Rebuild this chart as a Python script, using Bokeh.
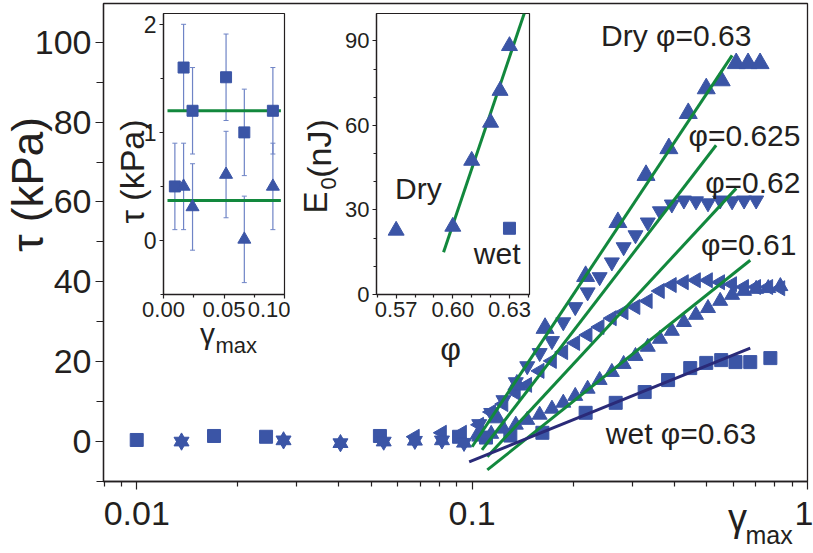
import math
from bokeh.plotting import figure
from bokeh.models import (Range1d, FixedTicker, Label, GridBox, Column,
                          CustomJSTickFormatter, NumeralTickFormatter)
from bokeh.embed import file_html
from bokeh.resources import INLINE

# ---------------- data: main panel (tau vs gamma_max) ----------------
main_xticks = [0.01, 0.1, 1.0]
main_xminor = [0.008, 0.009, 0.02, 0.03, 0.04, 0.05, 0.06, 0.07, 0.08, 0.09,
               0.2, 0.3, 0.4, 0.5, 0.6, 0.7, 0.8, 0.9]
main_yticks = [0, 20, 40, 60, 80, 100]
main_yminor = [-10, 10, 30, 50, 70, 90]

dry_x = [0.105, 0.118, 0.136, 0.165, 0.218, 0.272, 0.330, 0.386, 0.441,
         0.499, 0.553, 0.613, 0.665, 0.722]
dry_y = [2.0, 6.0, 14.2, 28.4, 41.4, 54.9, 66.7, 73.4, 82.2,
         88.4, 90.4, 94.7, 94.7, 94.7]

p625_x = [0.0136, 0.0274, 0.0405, 0.0545, 0.0675, 0.0813, 0.0946,
          0.105, 0.114, 0.124, 0.135, 0.146, 0.159, 0.173, 0.187, 0.203,
          0.221, 0.240, 0.261, 0.283, 0.307, 0.334, 0.363, 0.394, 0.428,
          0.465, 0.505, 0.549, 0.596, 0.647, 0.703]
p625_y = [0.0, 0.3, -0.4, 0.0, 0.2, 0.3, -0.3,
          4.4, 7.2, 10.4, 14.9, 18.9, 22.2, 25.2, 29.9, 33.7,
          37.4, 41.2, 44.9, 48.7, 51.7, 54.9, 57.7, 59.4, 60.4,
          60.2, 59.7, 60.4, 60.2, 60.4, 60.4]

p62_x = [0.0675, 0.0813, 0.0933,
         0.105, 0.114, 0.124, 0.135, 0.146, 0.159, 0.173, 0.187, 0.203,
         0.221, 0.240, 0.261, 0.283, 0.307, 0.334, 0.363, 0.394, 0.428,
         0.465, 0.505, 0.549, 0.596, 0.647, 0.703, 0.764, 0.830]
p62_y = [1.2, 2.2, 2.2,
         4.2, 7.4, 9.4, 12.2, 14.2, 17.7, 20.2, 22.4, 24.7,
         26.7, 28.7, 30.9, 32.4, 33.7, 35.2, 37.7, 39.2, 39.9,
         40.4, 40.4, 39.9, 39.4, 38.7, 38.7, 38.7, 38.4]

p61_x = [0.0136, 0.0274, 0.0405, 0.0545, 0.0675, 0.0813, 0.0946,
         0.105, 0.114, 0.124, 0.135, 0.146, 0.159, 0.173, 0.187, 0.203,
         0.221, 0.240, 0.261, 0.283, 0.307, 0.334, 0.363, 0.394, 0.428,
         0.465, 0.505, 0.549, 0.596, 0.647, 0.703, 0.764, 0.830]
p61_y = [0.0, 0.3, -0.4, 0.0, 0.2, 0.3, -0.3,
         1.2, 1.9, 3.2, 4.2, 5.4, 6.7, 8.2, 9.7, 11.4,
         13.2, 15.4, 17.4, 19.4, 21.4, 23.7, 25.7, 27.7, 29.9,
         31.7, 33.4, 35.2, 36.7, 37.7, 38.2, 38.4, 38.9]

wet_x = [0.010, 0.017, 0.0243, 0.0531, 0.0914, 0.110, 0.130, 0.162, 0.218,
         0.268, 0.327, 0.384, 0.447, 0.499, 0.553, 0.610, 0.675, 0.775]
wet_y = [0.4, 1.4, 1.2, 1.4, 1.2, 1.0, 1.5, 2.2, 7.2,
         9.7, 12.4, 15.4, 18.4, 19.7, 20.4, 19.9, 19.9, 20.9]

fit_dry_x, fit_dry_y = [0.100, 0.596], [-1.3, 96.7]
fit_625_x, fit_625_y = [0.107, 0.534], [-2.1, 74.2]
fit_62_x, fit_62_y = [0.111, 0.613], [-3.8, 63.4]
fit_61_x, fit_61_y = [0.111, 0.675], [-7.1, 45.4]
fit_wet_x, fit_wet_y = [0.098, 0.675], [-5.1, 23.4]

# ---------------- data: inset 1 (tau vs gamma_max, linear) ----------------
in1_xticks = [0.0, 0.05, 0.10]
in1_xminor = [0.025, 0.075]
in1_yticks = [0, 1, 2]
in1_yminor = [-0.5, 0.5, 1.5]
in1_sq_x = [0.0094, 0.0166, 0.0240, 0.0517, 0.0668, 0.0904]
in1_sq_y = [0.50, 1.60, 1.20, 1.51, 1.00, 1.20]
in1_sq_err = [0.40, 0.40, 0.40, 0.40, 0.40, 0.40]
in1_tr_x = [0.0166, 0.0240, 0.0517, 0.0668, 0.0904]
in1_tr_y = [0.50, 0.31, 0.61, 0.01, 0.50]
in1_tr_err = [0.40, 0.40, 0.40, 0.40, 0.40]
in1_hline_x = [0.0033, 0.0970]
in1_hline_hi = [1.20, 1.20]
in1_hline_lo = [0.37, 0.37]

# ---------------- data: inset 2 (E0 vs phi) ----------------
in2_xticks = [0.57, 0.60, 0.63]
in2_xminor = [0.56, 0.58, 0.59, 0.61, 0.62, 0.64]
in2_yticks = [0, 30, 60, 90]
in2_yminor = [10, 20, 40, 50, 70, 80]
in2_dry_phi = [0.570, 0.600, 0.610, 0.620, 0.625, 0.630]
in2_dry_e0 = [22.7, 24.1, 47.5, 61.0, 72.3, 88.2]
in2_wet_phi = [0.630]
in2_wet_e0 = [23.5]
in2_fit_phi = [0.5951, 0.6378]
in2_fit_e0 = [15.0, 99.7]

# ---------------- styles ----------------
FONT = "Liberation Sans"
TXT = "#231f20"
BLUE = "#3b55a6"
EBAR = "#6f84c6"
GREEN = "#12883d"
NAVY = "#2a2a78"
W, H = 813, 553


def style_axis(ax, size, tick_out, minor_out, standoff):
    ax.axis_line_color = TXT
    ax.axis_line_width = 1.3
    ax.major_tick_line_color = TXT
    ax.minor_tick_line_color = TXT
    ax.major_tick_line_width = 1.2
    ax.minor_tick_line_width = 1.2
    ax.major_tick_in = 0
    ax.minor_tick_in = 0
    ax.major_tick_out = tick_out
    ax.minor_tick_out = minor_out
    ax.major_label_text_font = FONT
    ax.major_label_text_font_size = size
    ax.major_label_text_color = TXT
    ax.major_label_standoff = standoff


def add_text(fig, x, y, text, size, align="center", baseline="middle", angle=0.0):
    fig.add_layout(Label(x=x, y=y, text=text, text_font=FONT,
                         text_font_size=size, text_color=TXT,
                         text_align=align, text_baseline=baseline, angle=angle))


def bare(fig):
    fig.xgrid.visible = False
    fig.ygrid.visible = False
    fig.background_fill_alpha = 0
    fig.border_fill_alpha = 0


# ---------------- main figure ----------------
p = figure(width=W, height=H, x_axis_type="log",
           x_range=Range1d(0.00796, 1.0), y_range=Range1d(-10, 109.7),
           output_backend="svg", toolbar_location=None,
           min_border_left=103, min_border_right=6, min_border_top=3,
           min_border_bottom=72)
p.xgrid.visible = False
p.ygrid.visible = False
p.outline_line_color = TXT
p.outline_line_width = 1.3
p.xaxis.ticker = FixedTicker(ticks=main_xticks, minor_ticks=main_xminor)
p.xaxis.formatter = CustomJSTickFormatter(code="return tick.toString();")
p.yaxis.ticker = FixedTicker(ticks=main_yticks, minor_ticks=main_yminor)
style_axis(p.xaxis[0], "34px", 8, 5, 12)
style_axis(p.yaxis[0], "34px", 8, 7, 4)

p.scatter(wet_x, wet_y, marker="square", size=13, color=BLUE)
p.scatter(p61_x, p61_y, marker="triangle", size=15, color=BLUE)
p.scatter(p62_x, p62_y, marker="triangle", angle=math.pi / 2, size=15, color=BLUE)
p.scatter(p625_x, p625_y, marker="inverted_triangle", size=15, color=BLUE)
p.scatter(dry_x, dry_y, marker="triangle", size=18, color=BLUE)

for fx, fy in [(fit_dry_x, fit_dry_y), (fit_625_x, fit_625_y),
               (fit_62_x, fit_62_y), (fit_61_x, fit_61_y)]:
    p.line(fx, fy, line_color=GREEN, line_width=3)
p.line(fit_wet_x, fit_wet_y, line_color=NAVY, line_width=3)

add_text(p, 0.680, 101.7, "Dry φ=0.63", "30px", align="right")
add_text(p, 0.953, 76.7, "φ=0.625", "30px", align="right")
add_text(p, 0.953, 64.9, "φ=0.62", "30px", align="right")
add_text(p, 0.927, 49.4, "φ=0.61", "30px", align="right")
add_text(p, 0.703, 1.9, "wet φ=0.63", "30px", align="right")

# ---------------- inset 1 ----------------
ins1 = figure(width=182, height=348, x_range=Range1d(0, 0.1),
              y_range=Range1d(-0.5, 2.1), output_backend="svg",
              toolbar_location=None, min_border_left=55, min_border_right=6,
              min_border_top=9, min_border_bottom=58)
bare(ins1)
ins1.outline_line_color = TXT
ins1.outline_line_width = 1.2
ins1.xaxis.ticker = FixedTicker(ticks=in1_xticks, minor_ticks=in1_xminor)
ins1.xaxis.formatter = NumeralTickFormatter(format="0.00")
ins1.yaxis.ticker = FixedTicker(ticks=in1_yticks, minor_ticks=in1_yminor)
style_axis(ins1.xaxis[0], "22px", 4, 3, 3)
style_axis(ins1.yaxis[0], "23px", 4, 3, 3)

sq_lo = [y - e for y, e in zip(in1_sq_y, in1_sq_err)]
sq_hi = [y + e for y, e in zip(in1_sq_y, in1_sq_err)]
tr_lo = [y - e for y, e in zip(in1_tr_y, in1_tr_err)]
tr_hi = [y + e for y, e in zip(in1_tr_y, in1_tr_err)]
ins1.segment(in1_sq_x, sq_lo, in1_sq_x, sq_hi, line_color=EBAR, line_width=1.2)
ins1.segment(in1_tr_x, tr_lo, in1_tr_x, tr_hi, line_color=EBAR, line_width=1.2)
ins1.scatter(in1_sq_x + in1_sq_x, sq_lo + sq_hi, marker="dash", size=5, line_color=EBAR)
ins1.scatter(in1_tr_x + in1_tr_x, tr_lo + tr_hi, marker="dash", size=5, line_color=EBAR)
ins1.line(in1_hline_x, in1_hline_hi, line_color=GREEN, line_width=3)
ins1.line(in1_hline_x, in1_hline_lo, line_color=GREEN, line_width=3)
ins1.scatter(in1_sq_x, in1_sq_y, marker="square", size=11, color=BLUE)
ins1.scatter(in1_tr_x, in1_tr_y, marker="triangle", size=13, color=BLUE)

# ---------------- inset 2 ----------------
ins2 = figure(width=239, height=360, x_range=Range1d(0.5596, 0.6406),
              y_range=Range1d(0, 99.7), output_backend="svg",
              toolbar_location=None, min_border_left=80, min_border_right=6,
              min_border_top=9, min_border_bottom=70)
bare(ins2)
ins2.outline_line_color = TXT
ins2.outline_line_width = 1.2
ins2.xaxis.ticker = FixedTicker(ticks=in2_xticks, minor_ticks=in2_xminor)
ins2.xaxis.formatter = NumeralTickFormatter(format="0.00")
ins2.yaxis.ticker = FixedTicker(ticks=in2_yticks, minor_ticks=in2_yminor)
style_axis(ins2.xaxis[0], "22px", 4, 3, 3)
style_axis(ins2.yaxis[0], "22px", 4, 3, 3)

ins2.line(in2_fit_phi, in2_fit_e0, line_color=GREEN, line_width=3)
ins2.scatter(in2_dry_phi, in2_dry_e0, marker="triangle", size=16, color=BLUE)
ins2.scatter(in2_wet_phi, in2_wet_e0, marker="square", size=12, color=BLUE)

add_text(ins2, 0.5818, 37.5, "Dry", "30px")
add_text(ins2, 0.6235, 14.5, "wet", "30px")

# ---------------- text layer (axis titles outside the frames) ----------------
# a transparent full-page overlay whose frame is the whole canvas, in pixels
txt = figure(width=W, height=H, x_range=Range1d(0, W), y_range=Range1d(H, 0),
             output_backend="svg", toolbar_location=None,
             x_axis_location=None, y_axis_location=None,
             min_border=0, min_border_left=0, min_border_right=0,
             min_border_top=0, min_border_bottom=0)
bare(txt)
txt.outline_line_color = None

add_text(txt, 27, 184, "τ (kPa)", "44px", angle=math.pi / 2)
add_text(txt, 737, 517, "γ", "38px")
add_text(txt, 745, 534, "max", "25px", align="left")

add_text(txt, 131, 171, "τ (kPa)", "34px", angle=math.pi / 2)
add_text(txt, 207, 333, "γ", "30px")
add_text(txt, 215, 345, "max", "22px", align="left")

add_text(txt, 315, 202, "E", "33px", angle=math.pi / 2)
add_text(txt, 328, 183, "0", "22px", angle=math.pi / 2)
add_text(txt, 318, 148, "(nJ)", "34px", angle=math.pi / 2)
add_text(txt, 450, 348, "φ", "32px")

# ---------------- overlay layout ----------------
# non-main plots are wrapped in columns so the grid does not align their frames
layout = GridBox(children=[(p, 0, 0, 2, 3),
                           (Column(children=[ins1]), 1, 1),
                           (Column(children=[ins2]), 1, 2),
                           (Column(children=[txt]), 0, 0, 2, 3)],
                 cols=["108px", "188px", "517px"], rows=["4px", "549px"])

with open("out.html", "w") as f:
    f.write(file_html(layout, INLINE))
